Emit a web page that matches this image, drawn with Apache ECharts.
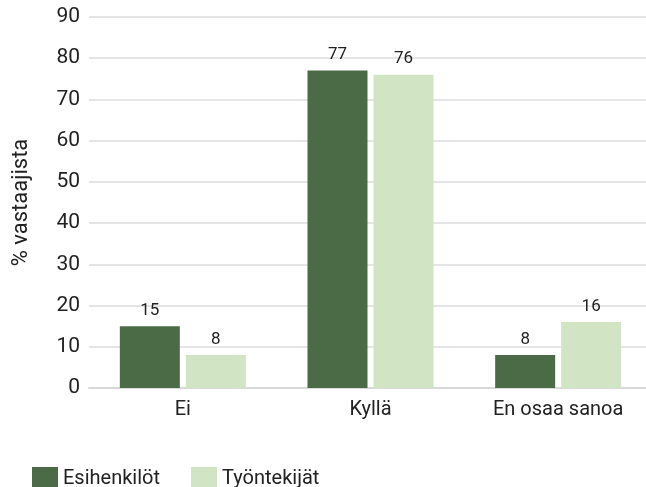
<!DOCTYPE html>
<html>
<head>
<meta charset="utf-8">
<script src="https://cdn.jsdelivr.net/npm/echarts@6/dist/echarts.min.js"></script>
<style>
  html, body { margin: 0; padding: 0; background: #fff; }
  #chart { width: 646px; height: 487px; }
</style>
</head>
<body>
<div id="chart"></div>
<script>
const categories = ['Ei', 'Kyllä', 'En osaa sanoa'];
const seriesNames = ['Esihenkilöt', 'Työntekijät'];
const esihenkilot = [15, 77, 8];
const tyontekijat = [8, 76, 16];

const chart = echarts.init(document.getElementById('chart'));
const font = 'Roboto, "Liberation Sans", sans-serif';

chart.setOption({
  animation: false,
  textStyle: { fontFamily: font },
  grid: { left: 89, right: -6, top: 17, bottom: 99, outerBoundsMode: 'none' },
  legend: {
    left: 27,
    top: 462,
    itemWidth: 26,
    itemHeight: 24,
    itemGap: 31,
    icon: 'rect',
    textStyle: { fontSize: 20, color: '#222', fontFamily: font },
    data: seriesNames
  },
  xAxis: {
    type: 'category',
    data: categories,
    axisLine: { lineStyle: { color: '#d9d9d9', width: 2 } },
    axisTick: { show: false },
    axisLabel: { fontSize: 20, color: '#222', margin: 12 }
  },
  yAxis: {
    type: 'value',
    min: 0,
    max: 90,
    interval: 10,
    name: '% vastaajista',
    nameLocation: 'middle',
    nameGap: 57,
    nameTextStyle: { fontSize: 22, color: '#222' },
    axisLine: { show: false },
    axisTick: { show: false },
    axisLabel: { fontSize: 21, color: '#222', margin: 9 },
    splitLine: { lineStyle: { color: '#dddddd', width: 1.5 } }
  },
  series: [
    {
      name: seriesNames[0],
      type: 'bar',
      data: esihenkilot,
      barWidth: 60,
      barGap: '10%',
      itemStyle: { color: '#4b6b47' },
      label: { show: true, position: 'top', fontSize: 17, color: '#222', distance: 7 }
    },
    {
      name: seriesNames[1],
      type: 'bar',
      data: tyontekijat,
      barWidth: 60,
      itemStyle: { color: '#d1e5c4' },
      label: { show: true, position: 'top', fontSize: 17, color: '#222', distance: 7 }
    }
  ]
});
</script>
</body>
</html>
